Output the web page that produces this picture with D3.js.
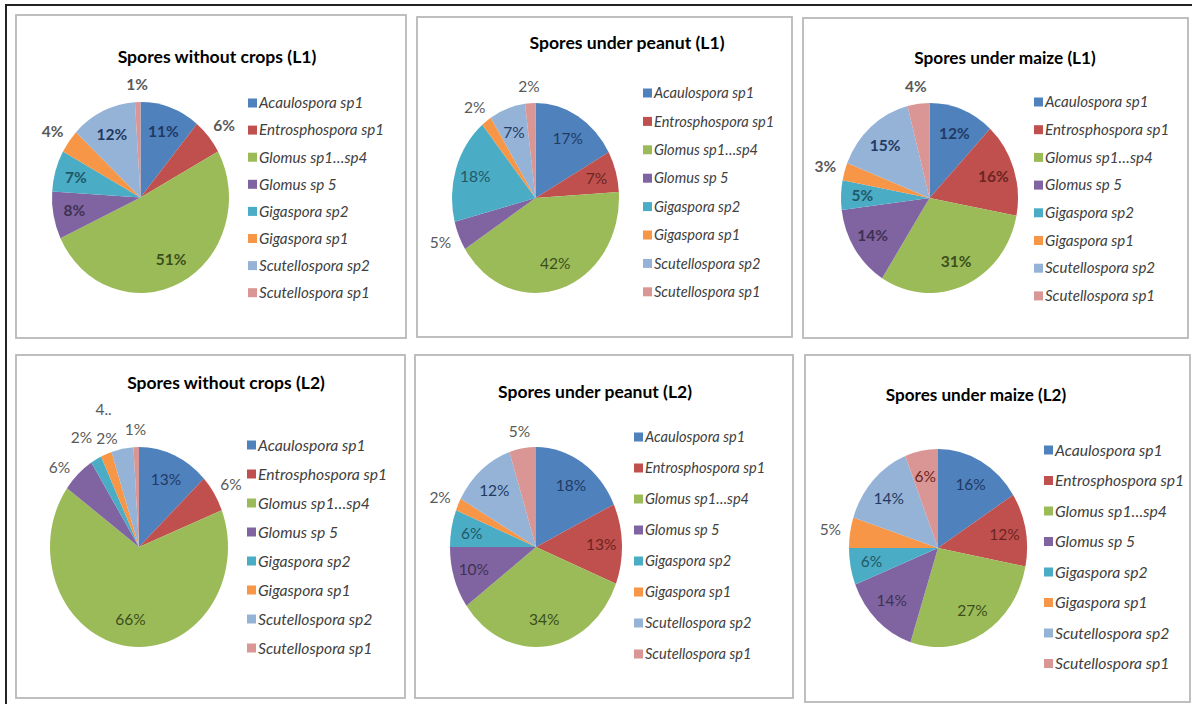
<!DOCTYPE html>
<html>
<head>
<meta charset="utf-8">
<script src="https://cdn.jsdelivr.net/npm/d3@7"></script>
<style>
  body { margin: 0; background: #fff; }
  svg { display: block; }
</style>
</head>
<body>
<svg id="chart" width="1192" height="704"></svg>
<script>
// Spore groups shown in every pie, in drawing order (clockwise from 12 o'clock)
const categories = [
  "Acaulospora sp1", "Entrosphospora sp1", "Glomus sp1…sp4", "Glomus sp 5",
  "Gigaspora sp2", "Gigaspora sp1", "Scutellospora sp2", "Scutellospora sp1"
];

const titles = [
  "Spores without crops (L1)", "Spores under peanut (L1)", "Spores under maize (L1)",
  "Spores without crops (L2)", "Spores under peanut (L2)", "Spores under maize (L2)"
];

// Share of spores (%) per group
const withoutCropsL1 = [11, 6, 51, 8, 7, 4, 12, 1];
const peanutL1       = [17, 7, 42, 5, 18, 2, 7, 2];
const maizeL1        = [12, 16, 31, 14, 5, 3, 15, 4];
const withoutCropsL2 = [13, 6, 66, 6, 2, 2, 4, 1];
const peanutL2       = [18, 13, 34, 10, 6, 2, 12, 5];
const maizeL2        = [16, 12, 27, 14, 6, 5, 14, 6];

const seriesByPanel = [withoutCropsL1, peanutL1, maizeL1, withoutCropsL2, peanutL2, maizeL2];

// Truncated label text (the label box was too narrow for "4%")
const labelText = [{}, {}, {}, { 6: "4.." }, {}, {}];

// Slice fills and the darker tones used for labels sitting inside slices
const fills = ["#4F81BD", "#C0504D", "#9BBB59", "#8064A2", "#4BACC6", "#F79646", "#95B3D7", "#D99694"];
const darks = ["#1F3A63", "#6B2523", "#3C4F1B", "#3F3151", "#205867", "#974806", "#1F3A63", "#6B2523"];

// Panel geometry and label placement
const panels = [
  { box: [16, 15, 406, 338], cx: 140.5, cy: 197.5, rx: 88.5, ry: 95.5, title: [217, 57], tSize: 17.6,
    leg: [248, 103, 27.1], lSize: 15.2, bold: true,  outside: [1, 5, 7], nudge: {} },
  { box: [417, 17, 792, 337], cx: 535.5, cy: 198, rx: 83.5, ry: 95, title: [627, 43], tSize: 17.6,
    leg: [643, 93, 28.4], lSize: 14.6, bold: false, outside: [3, 5, 7], nudge: {} },
  { box: [803, 18, 1188, 338], cx: 929.5, cy: 198, rx: 88.5, ry: 95, title: [1005, 58], tSize: 17.2,
    leg: [1034, 102, 27.7], lSize: 15.1, bold: true,  outside: [5, 7], nudge: {} },
  { box: [16, 355, 405, 698], cx: 139, cy: 547, rx: 89, ry: 100, title: [226, 383], tSize: 17.5,
    leg: [247, 445, 29], lSize: 15.7, bold: false, outside: [1, 3, 4, 5, 6, 7],
    nudge: { 3: [-5, 6], 4: [-5, -7], 5: [8, 0], 6: [-15, -22] } },
  { box: [415, 355, 793, 698], cx: 536, cy: 547, rx: 86, ry: 100, title: [595, 392], tSize: 17.5,
    leg: [634, 437, 31], lSize: 14.6, bold: false, outside: [5, 7], nudge: {} },
  { box: [805, 355, 1190, 702], cx: 938, cy: 548, rx: 89, ry: 99, title: [976, 395], tSize: 17.1,
    leg: [1044, 450, 30.5], lSize: 15.7, bold: false, outside: [5], nudge: {} }
];

const svg = d3.select("#chart");
const font = "Lato, 'Open Sans', 'DejaVu Sans', sans-serif";

// Outer frame (top and left rules)
svg.append("path")
  .attr("d", "M6,704 V5 H1192")
  .attr("fill", "none")
  .attr("stroke", "#222")
  .attr("stroke-width", 2);

const pie = d3.pie().sort(null).value(d => d);

panels.forEach((p, i) => {
  const values = seriesByPanel[i];
  const g = svg.append("g");

  // Chart area border
  const [x0, y0, x1, y1] = p.box;
  g.append("rect")
    .attr("x", x0).attr("y", y0)
    .attr("width", x1 - x0).attr("height", y1 - y0)
    .attr("fill", "#fff")
    .attr("stroke", "#b8b8b8")
    .attr("stroke-width", 1.8);

  // Title
  g.append("text")
    .attr("x", p.title[0]).attr("y", p.title[1])
    .attr("dy", "0.35em")
    .attr("text-anchor", "middle")
    .attr("font-family", font)
    .attr("font-weight", "bold")
    .attr("font-size", p.tSize)
    .attr("fill", "#000")
    .text(titles[i]);

  // Pie slices (slightly stretched vertically, as in the original layout)
  const arcs = pie(values);
  const arc = d3.arc().innerRadius(0).outerRadius(p.ry);
  g.append("g")
    .attr("transform", `translate(${p.cx},${p.cy}) scale(${p.rx / p.ry},1)`)
    .selectAll("path")
    .data(arcs)
    .join("path")
    .attr("d", arc)
    .attr("fill", (d, k) => fills[k]);

  // Data labels
  g.append("g")
    .selectAll("text")
    .data(arcs)
    .join("text")
    .each(function (d, k) {
      const mid = (d.startAngle + d.endAngle) / 2;
      const out = p.outside.includes(k);
      let x, y;
      if (out) {
        x = p.cx + Math.sin(mid) * (p.rx + 20);
        y = p.cy - Math.cos(mid) * (p.ry + 17);
      } else {
        x = p.cx + Math.sin(mid) * p.rx * 0.76;
        y = p.cy - Math.cos(mid) * p.ry * 0.73;
      }
      const n = p.nudge[k] || [0, 0];
      d3.select(this)
        .attr("x", x + n[0])
        .attr("y", y + n[1])
        .attr("dy", "0.35em")
        .attr("text-anchor", "middle")
        .attr("font-family", font)
        .attr("font-size", 15.5)
        .attr("font-weight", p.bold ? "bold" : "normal")
        .attr("fill", out ? "#595959" : darks[k])
        .text(labelText[i][k] !== undefined ? labelText[i][k] : d.data + "%");
    });

  // Legend
  const [lx, ly, step] = p.leg;
  const items = g.append("g")
    .selectAll("g")
    .data(categories)
    .join("g")
    .attr("transform", (d, k) => `translate(${lx},${ly + k * step})`);
  items.append("rect")
    .attr("x", 0).attr("y", -4.5)
    .attr("width", 9).attr("height", 9)
    .attr("fill", (d, k) => fills[k]);
  items.append("text")
    .attr("x", 11).attr("y", 0)
    .attr("dy", "0.35em")
    .attr("font-family", font)
    .attr("font-style", "italic")
    .attr("font-size", p.lSize)
    .attr("fill", "#404040")
    .text(d => d);
});
</script>
</body>
</html>
